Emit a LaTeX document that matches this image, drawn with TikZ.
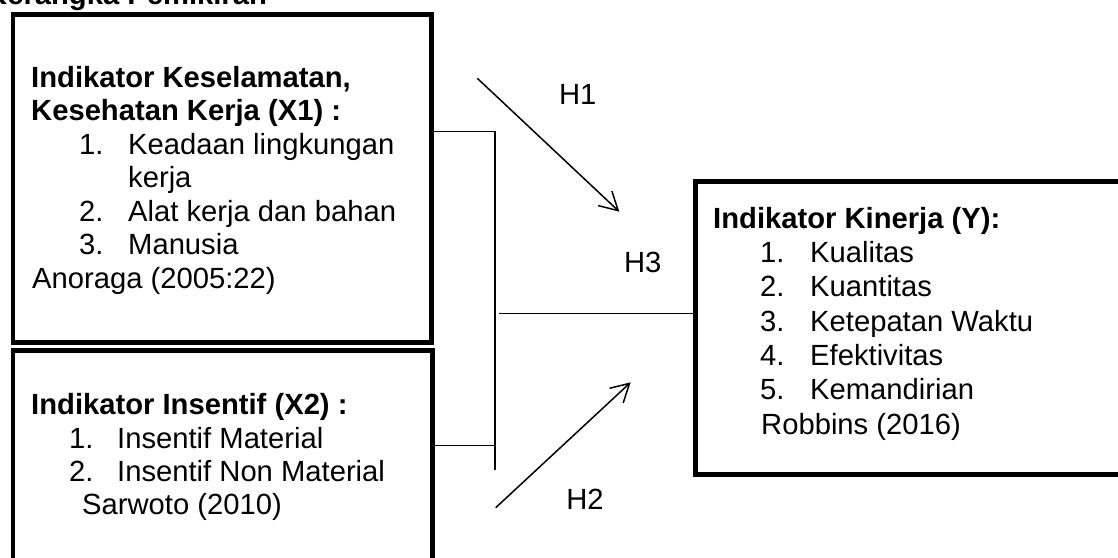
\documentclass[tikz,border=0pt]{standalone}
\usepackage{fontspec}
\setmainfont{Liberation Sans}
\usetikzlibrary{arrows.meta}
\begin{document}
\begin{tikzpicture}[x=1pt,y=-1pt,
  txt/.style={anchor=base west, inner sep=0pt, font=\fontsize{29.2}{34}\selectfont},
  boldtxt/.style={anchor=base west, inner sep=0pt, font=\fontsize{29.2}{34}\selectfont\bfseries},
  hlabel/.style={anchor=center, inner sep=0pt, font=\fontsize{29.2}{34}\selectfont},
  frame/.style={draw, line width=4.5pt, inner sep=0pt, anchor=north west},
  conn/.style={draw, line width=1.5pt},
  arr/.style={draw, line width=1.5pt, -{Straight Barb[length=18pt,width=20pt]}}]
\useasboundingbox (0,0) rectangle (1118,557);
\clip (0,0) rectangle (1118,557);

% cut-off heading
\node[boldtxt] (title) at (-14,4) {Kerangka Pemikiran};

% boxes
\node[frame, minimum width=418.5pt, minimum height=328pt] (x1) at (10.5,12) {};
\node[frame, minimum width=419.5pt, minimum height=260pt] (x2) at (10.5,348) {};
\node[frame, minimum width=500pt, minimum height=293pt] (yb) at (693,179) {};

% box X1 text
\node[boldtxt] (x1t1) at (31,87) {Indikator Keselamatan,};
\node[boldtxt] (x1t2) at (31,120.5) {Kesehatan Kerja (X1) :};
\node[txt] (x1n1) at (79,154) {1.};
\node[txt] (x1i1) at (128,154) {Keadaan lingkungan};
\node[txt] (x1i1b) at (128,187.5) {kerja};
\node[txt] (x1n2) at (79,221) {2.};
\node[txt] (x1i2) at (128,221) {Alat kerja dan bahan};
\node[txt] (x1n3) at (79,254.5) {3.};
\node[txt] (x1i3) at (128,254.5) {Manusia};
\node[txt] (x1src) at (32,288) {Anoraga (2005:22)};

% box X2 text
\node[boldtxt] (x2t1) at (31,414) {Indikator Insentif (X2) :};
\node[txt] (x2n1) at (69,448) {1.};
\node[txt] (x2i1) at (117,448) {Insentif Material};
\node[txt] (x2n2) at (69,481) {2.};
\node[txt] (x2i2) at (117,481) {Insentif Non Material};
\node[txt] (x2src) at (82,514) {Sarwoto (2010)};

% box Y text
\node[boldtxt] (yt1) at (713,228) {Indikator Kinerja (Y):};
\node[txt] (yn1) at (760,262.3) {1.};
\node[txt] (yi1) at (810,262.3) {Kualitas};
\node[txt] (yn2) at (760,296.6) {2.};
\node[txt] (yi2) at (810,296.6) {Kuantitas};
\node[txt] (yn3) at (760,331) {3.};
\node[txt] (yi3) at (810,331) {Ketepatan Waktu};
\node[txt] (yn4) at (760,365) {4.};
\node[txt] (yi4) at (810,365) {Efektivitas};
\node[txt] (yn5) at (760,399.5) {5.};
\node[txt] (yi5) at (810,399.5) {Kemandirian};
\node[txt] (ysrc) at (761,434) {Robbins (2016)};

% connectors
\coordinate (j1) at (495,131.7);
\coordinate (j2) at (495,470);
\coordinate (j3) at (495,445.7);
\coordinate (h3s) at (499,313.3);
\draw[conn] (x1.east |- j1) -- (j1) -- (j2);
\draw[conn] (x2.east |- j3) -- (j3);
\draw[conn] (h3s) -- (yb.west |- h3s);

\coordinate (a1s) at (477.3,78.3);
\coordinate (a1e) at (619.3,211.7);
\coordinate (a2s) at (495.7,507.7);
\coordinate (a2e) at (630.7,382.3);
\draw[arr] (a1s) -- (a1e);
\draw[arr] (a2s) -- (a2e);

\node[hlabel] (h1) at (577.7,94.3) {H1};
\node[hlabel] (h3) at (642.7,262.3) {H3};
\node[hlabel] (h2) at (585,499) {H2};
\end{tikzpicture}
\end{document}
